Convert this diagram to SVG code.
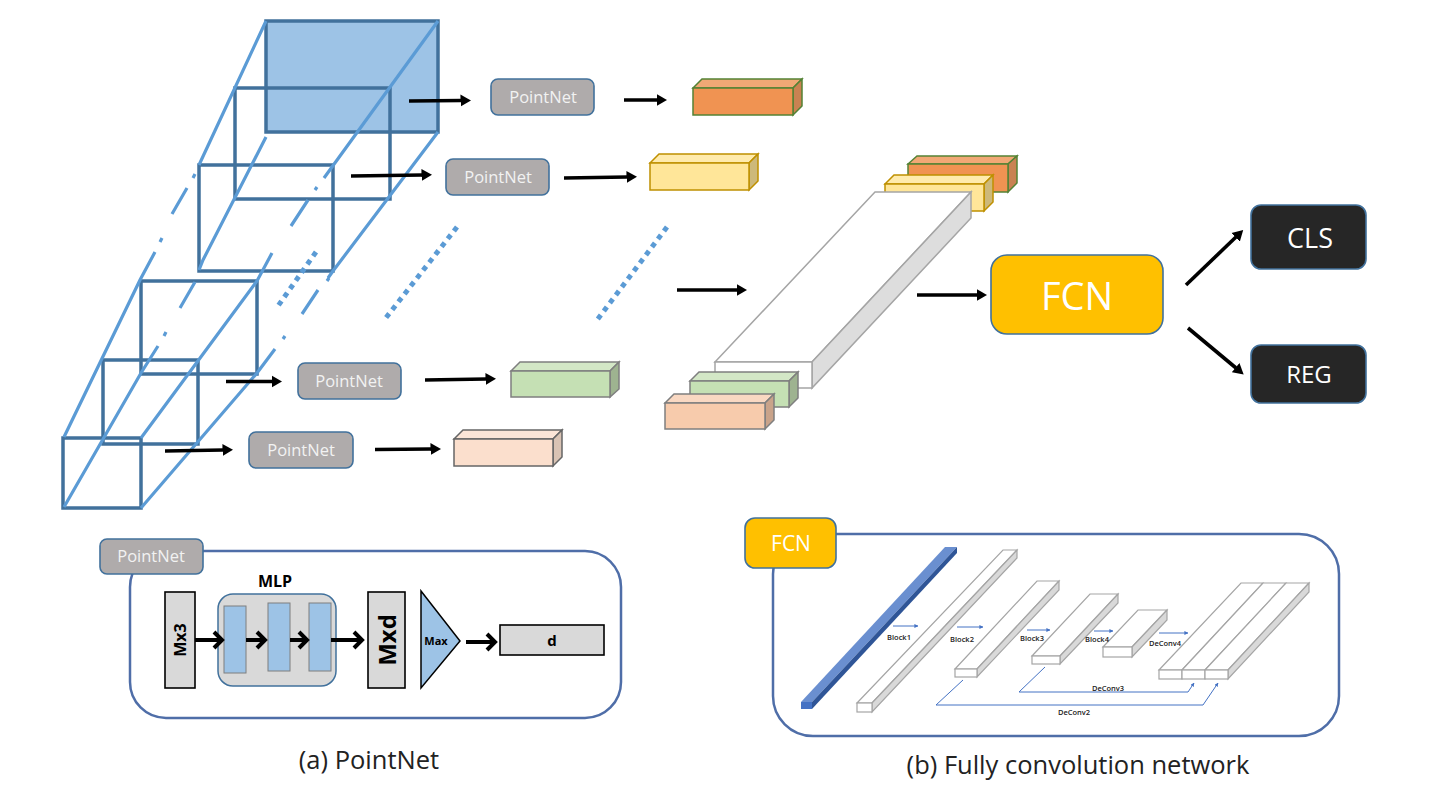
<svg xmlns="http://www.w3.org/2000/svg" width="1433" height="788" viewBox="0 0 1433 788">
<style>
text{font-family:"Open Sans","Liberation Sans",sans-serif;text-anchor:middle}
.frame{fill:none;stroke:#41719C;stroke-width:3.5}
.edge{fill:none;stroke:#5B9BD5;stroke-width:3.2}
.dots{fill:none;stroke:#5B9BD5;stroke-width:5;stroke-dasharray:5 5}
.arrow{fill:none;stroke:#000;stroke-width:3.6;marker-end:url(#head)}
.pn{fill:#AFABAB;stroke:#41719C;stroke-width:1.6}
.pnt{fill:#F2F2F2;font-size:16.5px}
.thick{fill:none;stroke:#000;stroke-width:4;marker-end:url(#chev)}
.gray{fill:#D9D9D9;stroke:#000;stroke-width:1.6}
.blue{fill:#9DC3E6;stroke:#7F7F7F;stroke-width:1}
.panel{fill:none;stroke:#4F6EA8;stroke-width:2.5}
.b{fill:#fff;stroke:#A5A5A5;stroke-width:1.2}
.bs{fill:#D9D9D9;stroke:#A5A5A5;stroke-width:1.2}
.thin{fill:none;stroke:#4472C4;stroke-width:1;marker-end:url(#thinhead)}
.lab{font-size:7.500px;font-weight:600;fill:#222}
.or{stroke:#548235;stroke-width:1.5}.ye{stroke:#BF9000;stroke-width:1.5}.gr{stroke:#7F7F7F;stroke-width:1.5}.pe{stroke:#666;stroke-width:1.5}
</style>
<defs>
<marker id="head" markerUnits="userSpaceOnUse" markerWidth="11" markerHeight="13" refX="0.5" refY="6.5" orient="auto"><path d="M0,0.5 L10.500,6.5 L0,12.5Z" fill="#000"/></marker>
<marker id="chev" markerUnits="userSpaceOnUse" markerWidth="13" markerHeight="20" refX="10" refY="10" orient="auto"><path d="M2,2 L10,10 L2,18" fill="none" stroke="#000" stroke-width="4"/></marker>
<marker id="thinhead" markerUnits="userSpaceOnUse" markerWidth="4" markerHeight="4" refX="3.6" refY="2" orient="auto"><path d="M0,0 L4,2 L0,4Z" fill="#4472C4"/></marker>
</defs>

<g id="frustum">
<rect x="266" y="21" width="172" height="111" fill="#9DC3E6"/>
<rect class="frame" x="266" y="21" width="172" height="111"/>
<rect class="frame" x="235" y="88" width="155" height="111"/>
<rect class="frame" x="199" y="165" width="134" height="106"/>
<rect class="frame" x="141" y="281" width="116" height="93"/>
<rect class="frame" x="103" y="360" width="95" height="84"/>
<rect class="frame" x="63" y="438" width="78" height="70"/>
<path class="edge" d="M266,21L199,165M195,174L193,178M187,188L172,214M162,238L160,242M155,252L140,280L64,437"/>
<path class="edge" d="M438,21L324,178M317,187L315,190M308,200L291,226M272,253L257,281L141,438"/>
<path class="edge" d="M266,137L203,260L199,270M195,282L180,308M166,332L164,336M158,346L141,373L64,507"/>
<path class="edge" d="M438,132L333,271L328,278M329,278L327,281M318,290L302,314M285,336L283,339M275,349L257,373L141,508"/>
<path class="dots" d="M316,252L278,306"/>
<path class="dots" d="M457,227L385,319"/>
<path class="dots" d="M667,227L597,320"/>
</g>

<g id="connectors">
<path class="arrow" d="M409,101L461,100.500"/>
<path class="arrow" d="M351,176L422,175"/>
<path class="arrow" d="M226,381.500L272,381.500"/>
<path class="arrow" d="M165,451L223,450"/>
<path class="arrow" d="M624,100L657,100"/>
<path class="arrow" d="M564,178L627,177"/>
<path class="arrow" d="M425,380L486,379"/>
<path class="arrow" d="M375,449.500L431,449"/>
<path class="arrow" d="M677,290L737,290"/>
<path class="arrow" d="M917,295L977,295"/>
<path class="arrow" d="M1186,285L1236,237"/>
<path class="arrow" d="M1188,328L1236,368"/>
</g>

<g id="pointnet1"><rect class="pn" x="491" y="79" width="103" height="36" rx="7"/><text class="pnt" x="543" y="103">PointNet</text></g>
<g id="pointnet2"><rect class="pn" x="446" y="159" width="103" height="36" rx="7"/><text class="pnt" x="498" y="183">PointNet</text></g>
<g id="pointnet3"><rect class="pn" x="298" y="363" width="103" height="36" rx="7"/><text class="pnt" x="349" y="387">PointNet</text></g>
<g id="pointnet4"><rect class="pn" x="249" y="432" width="104" height="36" rx="7"/><text class="pnt" x="301" y="456">PointNet</text></g>

<g id="box-orange" class="or"><path fill="#F1A875" d="M693,88L702,79H802L793,88Z"/><path fill="#C98252" d="M793,88L802,79V106L793,115Z"/><rect fill="#F09352" x="693" y="88" width="100" height="27"/></g>
<g id="box-yellow" class="ye"><path fill="#FFEBAD" d="M650,163L659,154H758L749,163Z"/><path fill="#CDB97A" d="M749,163L758,154V181L749,190Z"/><rect fill="#FFE699" x="650" y="163" width="99" height="27"/></g>
<g id="box-green" class="gr"><path fill="#D3E7C6" d="M511,371L520,362H619L610,371Z"/><path fill="#9EB390" d="M610,371L619,362V389L610,397Z"/><rect fill="#C5E0B4" x="511" y="371" width="99" height="26"/></g>
<g id="box-peach" class="pe"><path fill="#FBE5D7" d="M454,439L463,430H562L553,439Z"/><path fill="#D9C3B4" d="M553,439L562,430V457L553,466Z"/><rect fill="#FBDFCD" x="454" y="439" width="99" height="27"/></g>

<g id="stack">
<g class="or"><path fill="#F1A875" d="M908,164L917,156H1017L1008,164Z"/><path fill="#C98252" d="M1008,164L1017,156V183L1008,192Z"/><rect fill="#F09352" x="908" y="164" width="100" height="28"/></g>
<g class="ye"><path fill="#FFEBAD" d="M885,184L894,175H993L984,184Z"/><path fill="#CDB97A" d="M984,184L993,175V202L984,211Z"/><rect fill="#FFE699" x="885" y="184" width="99" height="27"/></g>
<g stroke="#A5A5A5" stroke-width="1.5"><path fill="#fff" d="M715,362L875,192H971L812,362Z"/><path fill="#DDD" d="M812,362L971,192V218L812,388Z"/><rect fill="#fff" x="715" y="362" width="97" height="26"/></g>
<g class="gr"><path fill="#D3E7C6" d="M690,381L699,372H798L789,381Z"/><path fill="#9EB390" d="M789,381L798,372V398L789,407Z"/><rect fill="#C5E0B4" x="690" y="381" width="99" height="26"/></g>
<g class="gr"><path fill="#F9D8C2" d="M665,403L674,394H774L765,403Z"/><path fill="#C9A38A" d="M765,403L774,394V420L765,429Z"/><rect fill="#F7CBAC" x="665" y="403" width="100" height="26"/></g>
</g>

<g id="fcn"><rect x="991" y="255" width="172" height="79" rx="16" fill="#FFC000" stroke="#41719C" stroke-width="1.6"/><text x="1077" y="310" font-size="38" fill="#fff">FCN</text></g>
<g id="cls"><rect x="1251" y="205" width="115" height="64" rx="10" fill="#262626" stroke="#41719C" stroke-width="1.6"/><text x="1310" y="248" font-size="27" fill="#fff">CLS</text></g>
<g id="reg"><rect x="1251" y="345" width="115" height="58" rx="10" fill="#262626" stroke="#41719C" stroke-width="1.6"/><text x="1309" y="383" font-size="24" fill="#fff">REG</text></g>

<g id="panel-pointnet">
<rect class="panel" x="130" y="551" width="491" height="167" rx="36"/>
<rect class="pn" x="100" y="539" width="103" height="35" rx="7"/><text class="pnt" x="151" y="562">PointNet</text>
<text x="275" y="587" font-size="16" font-weight="700" fill="#000">MLP</text>
<g id="mx3"><rect class="gray" x="165" y="592" width="30" height="96"/><text transform="translate(186,640) rotate(-90)" font-size="16" font-weight="700">Mx3</text></g>
<g id="mlp"><rect x="218" y="594" width="118" height="92" rx="15" fill="#D9D9D9" stroke="#41719C" stroke-width="1.5"/>
<rect class="blue" x="224" y="606" width="22" height="67"/><rect class="blue" x="268" y="603" width="22" height="68"/><rect class="blue" x="309" y="603" width="22" height="68"/></g>
<g id="mxd"><rect class="gray" x="368" y="592" width="37" height="96"/><text transform="translate(396,640) rotate(-90)" font-size="24" font-weight="700">Mxd</text></g>
<g id="max"><path d="M421,591L460,641L421,688Z" fill="#9DC3E6" stroke="#000" stroke-width="1.5"/><text x="436" y="645" font-size="11" font-weight="700">Max</text></g>
<g id="d"><rect class="gray" x="500" y="625" width="104" height="30"/><text x="552" y="646" font-size="15" font-weight="700">d</text></g>
<path class="thick" d="M195,640H222"/><path class="thick" d="M246,640H265"/><path class="thick" d="M290,640H307"/><path class="thick" d="M331,640H362"/><path class="thick" d="M466,642H495"/>
</g>

<g id="panel-fcn">
<rect class="panel" x="773" y="534" width="566" height="202" rx="40"/>
<rect x="745" y="518" width="91" height="50" rx="10" fill="#FFC000" stroke="#41719C" stroke-width="1.6"/><text x="791" y="551" font-size="21" fill="#fff">FCN</text>
<g id="bar0"><path fill="#6A8FD0" d="M801,702L945,547H957L812,702Z"/><path fill="#2F5597" d="M812,702L957,547V553L812,709Z"/><rect fill="#4472C4" x="801" y="702" width="11" height="7"/></g>
<g id="bar1"><path class="b" d="M857,703L1003,550H1017L872,703Z"/><path class="bs" d="M872,703L1017,550V558L872,712Z"/><rect class="b" x="857" y="703" width="15" height="9"/></g>
<g id="bar2"><path class="b" d="M955,669L1037,581H1059L977,669Z"/><path class="bs" d="M977,669L1059,581V590L977,677Z"/><rect class="b" x="955" y="669" width="22" height="8"/></g>
<g id="bar3"><path class="b" d="M1032,656L1090,594H1118L1060,656Z"/><path class="bs" d="M1060,656L1118,594V603L1060,664Z"/><rect class="b" x="1032" y="656" width="28" height="8"/></g>
<g id="bar4"><path class="b" d="M1103,647L1138,610H1167L1132,647Z"/><path class="bs" d="M1132,647L1167,610V620L1132,657Z"/><rect class="b" x="1103" y="647" width="29" height="10"/></g>
<g id="bar5"><path class="b" d="M1159,670L1241,583H1263L1182,670Z"/><path class="b" d="M1182,670L1263,583H1286L1205,670Z"/><path class="b" d="M1205,670L1286,583H1309L1228,670Z"/><path class="bs" d="M1228,670L1309,583V592L1228,679Z"/><rect class="b" x="1159" y="670" width="23" height="9"/><rect class="b" x="1182" y="670" width="23" height="9"/><rect class="b" x="1205" y="670" width="23" height="9"/></g>
<path class="thin" d="M893,626H918"/><path class="thin" d="M957,627H983"/><path class="thin" d="M1027,630H1050"/><path class="thin" d="M1094,631H1113"/><path class="thin" d="M1159,633H1188"/>
<path class="thin" d="M963,680L936,705H1203L1218,683"/><path class="thin" d="M1045,667L1019,692H1188L1194,683"/>
<text class="lab" x="899" y="640">Block1</text><text class="lab" x="962" y="642">Block2</text><text class="lab" x="1032" y="641">Block3</text><text class="lab" x="1097" y="642">Block4</text><text class="lab" x="1165" y="646">DeConv4</text><text class="lab" x="1108" y="691">DeConv3</text><text class="lab" x="1074" y="715">DeConv2</text>
</g>

<text id="caption-a" x="369" y="769" font-size="25.500" fill="#222">(a) PointNet</text>
<text id="caption-b" x="1078" y="774" font-size="25.500" fill="#222">(b) Fully convolution network</text>
</svg>
